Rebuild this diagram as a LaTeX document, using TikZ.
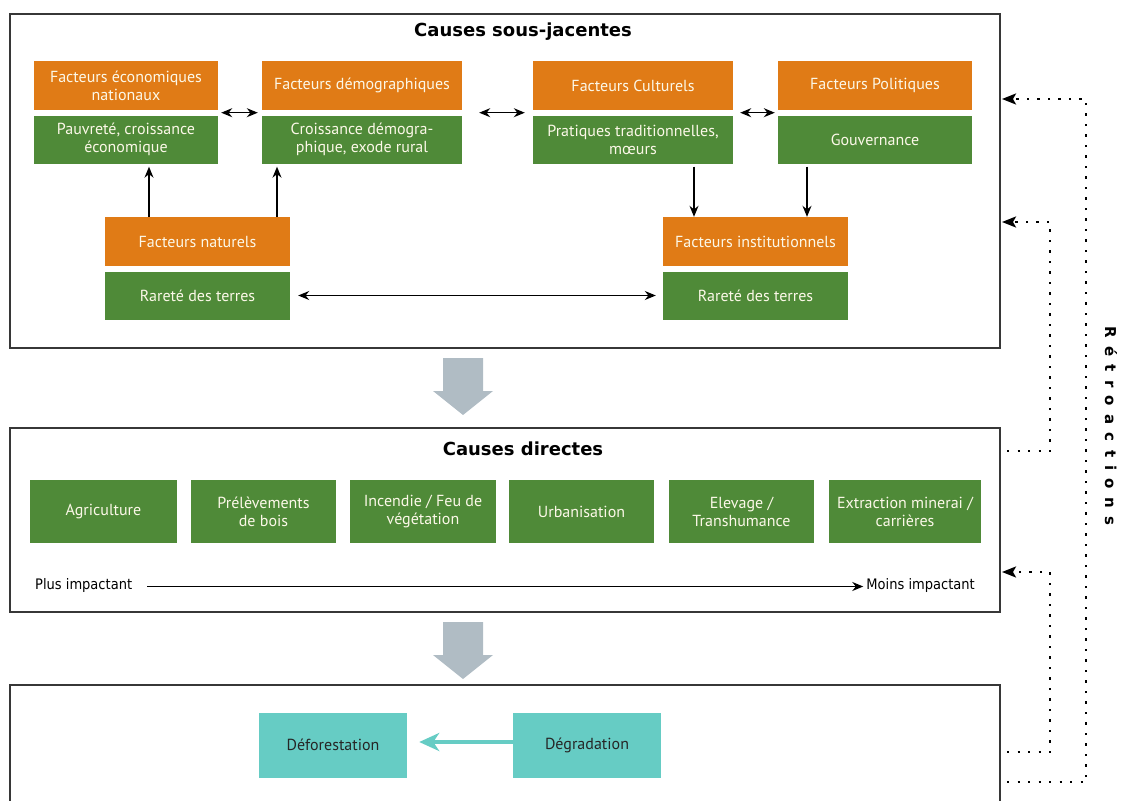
\documentclass[tikz,border=0pt]{standalone}
\usepackage{fontspec}
\setmainfont{PT Sans}
\newfontfamily\titlefont{DejaVu Sans}
\newfontfamily\labelfont{DejaVu Sans Condensed}
\newfontfamily\retrofont[LetterSpace=55]{DejaVu Sans}
\usetikzlibrary{arrows.meta}
\definecolor{corange}{RGB}{224,123,22}
\definecolor{cgreen}{RGB}{79,138,56}
\definecolor{cteal}{RGB}{102,204,196}
\definecolor{cgrey}{RGB}{176,188,196}
\definecolor{cframe}{RGB}{55,55,55}
\definecolor{ctext}{RGB}{252,248,232}
\tikzset{
  frame/.style={draw=cframe, line width=1.2pt, inner sep=0pt},
  obox/.style={fill=corange, text=ctext, align=center, inner sep=1pt, minimum height=49pt, font=\fontsize{16}{18}\selectfont},
  gbox/.style={fill=cgreen, text=ctext, align=center, inner sep=1pt, minimum height=48pt, font=\fontsize{16}{18}\selectfont},
  dbox/.style={fill=cgreen, text=ctext, align=center, inner sep=1pt, minimum width=146pt, minimum height=63pt, font=\fontsize{16}{18}\selectfont},
  tbox/.style={fill=cteal, text=black!85, align=center, inner sep=1pt, minimum width=148pt, minimum height=65pt, font=\fontsize{16}{18}\selectfont},
  ttl/.style={font=\titlefont\bfseries\fontsize{18}{20}\selectfont},
  lbl/.style={font=\labelfont\fontsize{14.5}{16}\selectfont, inner sep=0pt},
  arr/.style={-{Stealth[length=11pt,width=9pt]}, line width=1.3pt},
  dbl/.style={{Stealth[length=11pt,width=9pt]}-{Stealth[length=11pt,width=9pt]}, line width=1.3pt},
  tealarr/.style={-{Stealth[length=20pt,width=18pt,inset=6pt]}, line width=4pt, draw=cteal},
  dots/.style={line width=2.2pt, dash pattern=on 2.2pt off 8.3pt, -{Stealth[length=14pt,width=11pt,inset=3pt]}},
}
\begin{document}
\begin{tikzpicture}[x=1pt,y=-1pt]
\useasboundingbox (0,0) rectangle (1121,800);
% frames
\node[frame, minimum width=990pt, minimum height=334pt] (topframe) at (505,181) {};
\node[frame, minimum width=990pt, minimum height=184pt] (midframe) at (505,520) {};
\node[frame, minimum width=990pt, minimum height=140pt] (botframe) at (505,755) {};
\node[ttl] (t1) at (523,32) {Causes sous-jacentes};
\node[ttl] (t2) at (523,449) {Causes directes};
% row 1
\node[obox, minimum width=184pt] (econ) at (126,85.5) {Facteurs économiques\\nationaux};
\node[gbox, minimum width=184pt] (econg) at (126,139.5) {Pauvreté, croissance\\économique};
\node[obox, minimum width=200pt] (demo) at (362,85.5) {Facteurs démographiques};
\node[gbox, minimum width=200pt] (demog) at (362,139.5) {Croissance démogra-\\phique, exode rural};
\node[obox, minimum width=200pt] (cult) at (633,85.5) {Facteurs Culturels};
\node[gbox, minimum width=200pt] (cultg) at (633,139.5) {Pratiques traditionnelles,\\mœurs};
\node[obox, minimum width=194pt] (pol) at (875,85.5) {Facteurs Politiques};
\node[gbox, minimum width=194pt] (polg) at (875,139.5) {Gouvernance};
% row 2
\node[obox, minimum width=185pt] (nat) at (197.5,241.5) {Facteurs naturels};
\node[gbox, minimum width=185pt] (natg) at (197.5,295.5) {Rareté des terres};
\node[obox, minimum width=185pt] (inst) at (755.5,241.5) {Facteurs institutionnels};
\node[gbox, minimum width=185pt] (instg) at (755.5,295.5) {Rareté des terres};
% arrows top
\draw[dbl] ([xshift=3pt,yshift=-2.5pt]econ.south east) -- ([xshift=-4pt,yshift=-2.5pt]demo.south west);
\draw[dbl] ([xshift=17pt,yshift=-2.5pt]demo.south east) -- ([xshift=-8pt,yshift=-2.5pt]cult.south west);
\draw[dbl] ([xshift=7pt,yshift=-2.5pt]cult.south east) -- ([xshift=-3pt,yshift=-2.5pt]pol.south west);
\draw[arr, shorten >=3pt] ([xshift=-48.5pt]nat.north) -- ([xshift=-48.5pt]nat.north |- econg.south);
\draw[arr, shorten >=3pt] ([xshift=79.5pt]nat.north) -- ([xshift=79.5pt]nat.north |- demog.south);
\draw[arr, shorten <=3pt] ([xshift=61pt]cultg.south) -- ([xshift=61pt]cultg.south |- inst.north);
\draw[arr, shorten <=3pt] ([xshift=-68pt]polg.south) -- ([xshift=-68pt]polg.south |- inst.north);
\draw[dbl] ([xshift=8pt]natg.east) -- ([xshift=-7pt]instg.west);
% grey block arrows
\fill[cgrey] (443,358) -- (483,358) -- (483,391) -- (493,391) -- (463,415) -- (433,391) -- (443,391) -- cycle;
\fill[cgrey] (443,622) -- (483,622) -- (483,655) -- (493,655) -- (463,679) -- (433,655) -- (443,655) -- cycle;
% direct causes
\node[dbox, minimum width=147pt] (agri) at (103.5,511.5) {Agriculture};
\node[dbox, minimum width=145pt] (bois) at (263.5,511.5) {Prélèvements\\de bois};
\node[dbox, minimum width=146pt] (feu) at (423,511.5) {Incendie / Feu de\\végétation};
\node[dbox, minimum width=145pt] (urb) at (581.5,511.5) {Urbanisation};
\node[dbox, minimum width=145pt] (elev) at (741.5,511.5) {Elevage /\\Transhumance};
\node[dbox, minimum width=152pt] (extr) at (905,511.5) {Extraction minerai /\\carrières};
\node[lbl, anchor=west] (plus) at (35,585) {Plus impactant};
\node[lbl, anchor=east] (moins) at (975,585) {Moins impactant};
\draw[arr] ([xshift=15pt,yshift=-1.5pt]plus.east) -- ([xshift=-3pt,yshift=-1.5pt]moins.west);
% bottom
\node[tbox] (defo) at (333,745) {Déforestation};
\node[tbox] (degr) at (587,745) {Dégradation};
\draw[tealarr] (degr.west |- 0,742) -- ([xshift=12pt]defo.east |- 0,742);
% feedback dotted
\coordinate (fb1s) at (1007,782);
\coordinate (fb1e) at (1002,99);
\coordinate (fb2s) at (1007,451);
\coordinate (fb2e) at (1002,222);
\coordinate (fb3s) at (1007,752);
\coordinate (fb3e) at (1002,572);
\draw[dots] (fb1s) -| (1086,99) -- (fb1e);
\draw[dots] (fb2s) -| (1050,222) -- (fb2e);
\draw[dots] (fb3s) -| (1050,572) -- (fb3e);
\node[rotate=-90, font=\retrofont\bfseries\fontsize{15}{17}\selectfont] (retro) at (1111,426) {Rétroactions};
\end{tikzpicture}
\end{document}
